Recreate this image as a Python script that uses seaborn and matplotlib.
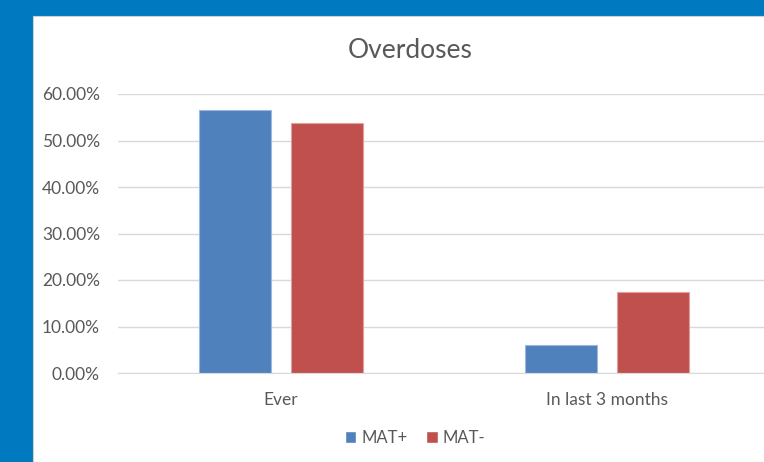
import pandas as pd
import matplotlib.pyplot as plt
import seaborn as sns
from matplotlib.patches import Rectangle
from matplotlib.ticker import PercentFormatter

# data
categories = ['Ever', 'In last 3 months']
groups = ['MAT+', 'MAT-']
mat_plus = [0.565, 0.060]
mat_minus = [0.538, 0.174]
colors = ['#4F81BD', '#C0504D']

df = pd.DataFrame({
    'category': categories * 2,
    'group': [groups[0]] * 2 + [groups[1]] * 2,
    'value': mat_plus + mat_minus,
})

sns.set_style('white')
plt.rcParams['font.family'] = ['Lato', 'DejaVu Sans']

fig = plt.figure(figsize=(7.64, 4.62), dpi=100)
fig.patch.set_facecolor('#0079C1')
# white chart panel on the blue background
fig.patches.append(Rectangle((33 / 764, 0), 1, 1 - 16 / 462, transform=fig.transFigure,
                             facecolor='white', edgecolor='#D0D0D0', linewidth=0.8, zorder=-1))

ax = fig.add_axes([118 / 764, 89 / 462, (770 - 118) / 764, (373 - 94) / 462])
ax.set_facecolor('none')

sns.barplot(data=df, x='category', y='value', hue='group', order=categories,
            hue_order=groups, palette=colors, saturation=1, width=0.565, gap=0.22,
            edgecolor='#9FB7DA', linewidth=0.8, ax=ax, legend=False)
for bar in ax.patches[2:]:
    bar.set_edgecolor('#E0A09F')

ax.set_ylim(0, 0.6)
ax.set_yticks([0, 0.1, 0.2, 0.3, 0.4, 0.5, 0.6])
ax.yaxis.set_major_formatter(PercentFormatter(1.0, decimals=2))
ax.grid(axis='y', color='#D9D9D9', linewidth=1)
ax.set_axisbelow(True)
for s in ['top', 'right', 'left']:
    ax.spines[s].set_visible(False)
ax.spines['bottom'].set_color('#D9D9D9')
ax.tick_params(axis='both', length=0, labelsize=12.5, colors='#595959')
ax.tick_params(axis='y', pad=13)
ax.tick_params(axis='x', pad=14)
ax.set_xlabel('')
ax.set_ylabel('')

fig.text(410 / 764, 1 - 50 / 462, 'Overdoses', ha='center', va='center',
         fontsize=19, color='#595959')

handles = [Rectangle((0, 0), 1, 1, facecolor=c) for c in colors]
fig.legend(handles, groups, loc='center', bbox_to_anchor=(415 / 764, 1 - 438 / 462),
           ncol=2, frameon=False, fontsize=12, labelcolor='#595959',
           handlelength=0.7, handleheight=0.7, handletextpad=0.3, columnspacing=1.1)

fig.savefig('out.png', dpi=100, facecolor=fig.get_facecolor())
